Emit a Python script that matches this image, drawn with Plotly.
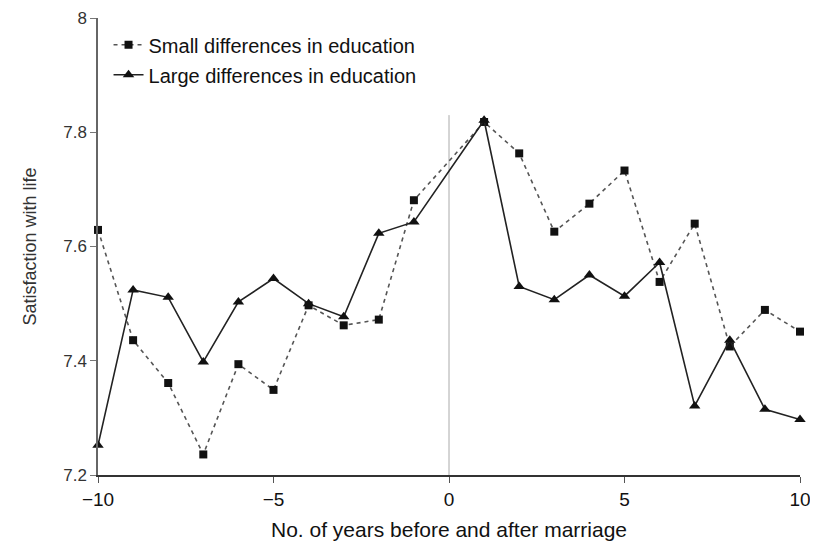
import plotly.graph_objects as go

years_small = [-10, -9, -8, -7, -6, -5, -4, -3, -2, -1, 1, 2, 3, 4, 5, 6, 7, 8, 9, 10]
small_diff = [7.629, 7.436, 7.361, 7.236, 7.394, 7.349, 7.497, 7.462, 7.472, 7.681,
              7.818, 7.763, 7.626, 7.675, 7.733, 7.538, 7.640, 7.425, 7.489, 7.451]

years_large = [-10, -9, -8, -7, -6, -5, -4, -3, -2, -1, 1, 2, 3, 4, 5, 6, 7, 8, 9, 10]
large_diff = [7.252, 7.524, 7.511, 7.398, 7.503, 7.544, 7.500, 7.477, 7.623, 7.643,
              7.821, 7.530, 7.507, 7.550, 7.513, 7.572, 7.321, 7.436, 7.315, 7.297]

x_ticks = [-10, -5, 0, 5, 10]
y_ticks = [7.2, 7.4, 7.6, 7.8, 8.0]
y_tick_labels = ["7.2", "7.4", "7.6", "7.8", "8"]

marriage_year = 0
marriage_line_top = 7.83

FONT = "Liberation Sans, Arial, Helvetica, sans-serif"

fig = go.Figure()
fig.add_trace(go.Scatter(
    x=years_small, y=small_diff, mode="lines+markers",
    name="Small differences in education", legendgroup="a",
    line=dict(color="#555555", width=1.6, dash="4px,4px"),
    marker=dict(symbol="square", size=8, color="#111111"),
    cliponaxis=False,
))
fig.add_trace(go.Scatter(
    x=years_large, y=large_diff, mode="lines+markers",
    name="Large differences in education", legendgroup="b",
    line=dict(color="#222222", width=1.6),
    marker=dict(symbol="triangle-up", size=10, color="#111111"),
    cliponaxis=False,
))

fig.add_shape(type="line", xref="x", yref="y",
              x0=marriage_year, x1=marriage_year, y0=y_ticks[0], y1=marriage_line_top,
              line=dict(color="#aaaaaa", width=1), layer="below")

fig.update_layout(
    width=810, height=535,
    margin=dict(l=90, r=18, t=10, b=68, autoexpand=False),
    paper_bgcolor="white", plot_bgcolor="white",
    font=dict(family=FONT, color="#111111"),
    showlegend=True,
    legend=dict(x=0.015, y=0.984, xanchor="left", yanchor="top",
                font=dict(size=20, family=FONT, color="#111111"),
                bgcolor="rgba(0,0,0,0)", traceorder="grouped", tracegroupgap=1,
                itemwidth=30),
    xaxis=dict(range=[-10, 10], tickvals=x_ticks, showgrid=False, zeroline=False,
               showline=True, linecolor="#333333", linewidth=2,
               ticks="outside", ticklen=6, tickcolor="#555555",
               tickfont=dict(size=19, family=FONT, color="#111111"),
               title=dict(text="No. of years before and after marriage",
                          font=dict(size=21, family=FONT, color="#111111"), standoff=14)),
    yaxis=dict(range=[7.2, 8.0], tickvals=y_ticks, ticktext=y_tick_labels,
               showgrid=False, zeroline=False,
               showline=True, linecolor="#666666", linewidth=1.5,
               ticks="outside", ticklen=6, tickcolor="#777777",
               tickfont=dict(size=17, family=FONT, color="#333333"),
               title=dict(text="Satisfaction with life",
                          font=dict(size=18, family=FONT, color="#333333"), standoff=22)),
)

fig.write_html("out.html")
